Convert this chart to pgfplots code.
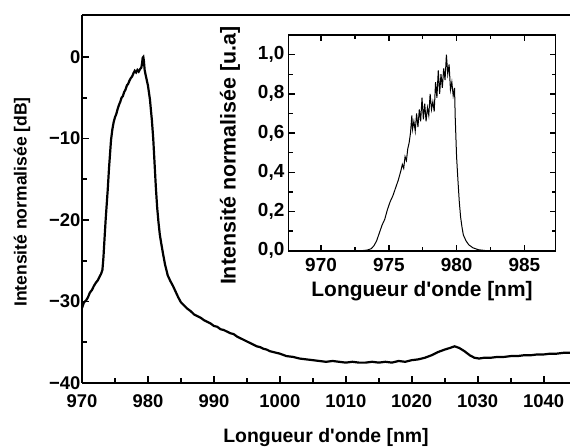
\documentclass[border=0pt]{standalone}
\usepackage{fontspec}
\setmainfont{Liberation Sans}
\usepackage{pgfplots}
\pgfplotsset{compat=1.18}
\pgfplotstableread{
x y
970.0 -30.8
970.3 -30.1
970.6 -29.9
970.9 -29.5
971.2 -28.9
971.5 -28.6
971.8 -28.1
972.1 -27.7
972.4 -27.4
972.7 -26.9
972.9 -26.6
973.1 -26.1
973.25 -24.6
973.4 -22.5
973.6 -19.8
973.9 -16.3
974.1 -13.6
974.4 -10.2
974.6 -8.9
974.8 -8.0
975.0 -7.4
975.2 -7.0
975.4 -6.4
975.6 -5.9
975.8 -5.5
976.0 -5.0
976.2 -4.8
976.4 -4.3
976.6 -4.0
976.8 -3.5
977.0 -3.3
977.2 -2.9
977.4 -2.6
977.6 -2.4
977.8 -2.0
978.0 -1.7
978.2 -1.9
978.4 -1.6
978.6 -1.8
978.8 -1.5
979.0 -1.3
979.1 -0.8
979.2 -0.1
979.3 0.0
979.4 -0.6
979.5 -1.6
979.7 -2.4
980.0 -3.5
980.3 -5.2
980.6 -7.8
980.8 -10.0
981.0 -13.0
981.2 -16.0
981.4 -18.5
981.6 -20.3
981.8 -21.8
982.0 -22.8
982.3 -24.2
982.6 -25.5
983.0 -26.8
983.4 -27.5
983.8 -28.1
984.2 -28.8
984.6 -29.5
985.0 -30.1
985.5 -30.5
986.0 -30.9
986.5 -31.2
987.0 -31.6
987.5 -31.8
988.0 -32.0
988.5 -32.3
989.0 -32.5
989.5 -32.7
990.0 -33.0
990.5 -33.1
991.0 -33.4
991.5 -33.5
992.0 -33.7
992.5 -33.9
993.0 -34.0
993.5 -34.3
994.0 -34.5
994.5 -34.7
995.0 -34.9
995.5 -35.1
996.0 -35.3
996.5 -35.5
997.0 -35.6
997.5 -35.8
998.0 -35.9
998.5 -36.1
999.0 -36.2
999.5 -36.3
1000 -36.4
1001 -36.7
1002 -36.8
1003 -37.0
1004 -37.1
1005 -37.2
1006 -37.3
1007 -37.4
1008 -37.3
1009 -37.4
1010 -37.5
1011 -37.4
1012 -37.5
1013 -37.5
1014 -37.4
1015 -37.5
1016 -37.4
1017 -37.5
1018 -37.3
1019 -37.4
1020 -37.2
1021 -37.1
1022 -36.9
1023 -36.6
1024 -36.2
1025 -35.9
1025.8 -35.7
1026.5 -35.5
1027.2 -35.7
1028 -36.1
1028.8 -36.6
1029.5 -36.9
1030.2 -37.0
1031 -36.9
1032 -36.9
1033 -36.8
1034 -36.8
1035 -36.7
1036 -36.7
1037 -36.6
1038 -36.6
1039 -36.5
1040 -36.5
1041 -36.4
1042 -36.4
1043 -36.3
1044 -36.3
}\maindata
\pgfplotstableread{
x y
967.6 0
973.0 0
973.4 0.003
973.7 0.01
973.9 0.025
974.1 0.05
974.3 0.09
974.5 0.13
974.7 0.16
974.9 0.21
975.1 0.25
975.3 0.28
975.5 0.32
975.7 0.36
975.9 0.41
976.0 0.44
976.1 0.42
976.2 0.48
976.3 0.46
976.4 0.52
976.5 0.55
976.6 0.60
976.7 0.69
976.75 0.62
976.85 0.66
976.95 0.61
977.05 0.70
977.15 0.63
977.25 0.72
977.35 0.66
977.45 0.78
977.55 0.67
977.65 0.75
977.75 0.66
977.85 0.73
977.95 0.69
978.05 0.80
978.15 0.72
978.25 0.76
978.35 0.71
978.45 0.86
978.55 0.78
978.65 0.92
978.75 0.80
978.85 0.90
978.95 0.83
979.05 0.93
979.15 0.87
979.25 1.00
979.35 0.90
979.45 0.95
979.55 0.82
979.65 0.86
979.75 0.79
979.85 0.83
979.9 0.68
979.95 0.58
980.0 0.48
980.1 0.36
980.2 0.25
980.3 0.17
980.4 0.12
980.5 0.08
980.7 0.05
980.9 0.03
981.2 0.015
981.6 0.005
982.2 0
987.3 0
}\insetdata
\begin{document}
\begin{tikzpicture}[x=1bp,y=1bp]
\useasboundingbox (0,0) rectangle (570,447);
\begin{axis}[
  at={(82bp,64bp)}, anchor=south west,
  width=488bp, height=368bp, scale only axis,
  xmin=970, xmax=1044, ymin=-40, ymax=5.15,
  axis x line*=box, axis y line*=left,
  axis line style={line width=2.2bp, -},
  xtick={970,980,...,1040}, ytick={-40,-30,...,0},
  yticklabels={−40,−30,−20,−10,0},
  minor x tick num=1, minor y tick num=1,
  xtick pos=left, ytick pos=left,
  tick align=inside,
  major tick length=7bp, minor tick length=5bp,
  every tick/.style={line width=1.8bp, black},
  tick label style={font=\fontsize{18.5}{20}\selectfont\bfseries, /pgf/number format/assume math mode=true},
  xticklabel style={anchor=base, yshift=-25bp, /pgf/number format/.cd, 1000 sep={}},
  yticklabel style={anchor=east, inner xsep=1.5bp},
  xlabel={Longueur d\textquotesingle onde [nm]},
  ylabel={Intensité normalisée [dB]},
  every axis x label/.style={at={(axis description cs:0.5,0)}, anchor=base, yshift=-60bp, font=\fontsize{19.5}{21}\selectfont\bfseries},
  every axis y label/.style={at={(axis description cs:0,0.5)}, xshift=-60bp, yshift=-3bp, rotate=90, anchor=center, font=\fontsize{17.6}{19}\selectfont\bfseries},
  clip=true,
]
\addplot[black, line width=2.2bp] table[x=x,y=y] {\maindata};
\end{axis}
\begin{axis}[
  at={(288.5bp,196.3bp)}, anchor=south west,
  width=267bp, height=215.7bp, scale only axis,
  xmin=967.6, xmax=987.3, ymin=0, ymax=1.1,
  axis background/.style={fill=white},
  axis line style={line width=1.8bp},
  xtick={970,975,980,985}, ytick={0,0.2,0.4,0.6,0.8,1.0},
  minor x tick num=1, minor y tick num=1,
  tick align=inside,
  major tick length=6bp, minor tick length=4bp,
  every tick/.style={line width=1.4bp, black},
  tick label style={font=\fontsize{19}{21}\selectfont\bfseries, /pgf/number format/assume math mode=true},
  yticklabel style={anchor=east, inner xsep=4bp, /pgf/number format/.cd, fixed, fixed zerofill, precision=1, use comma},
  xticklabel style={anchor=base, yshift=-21bp, /pgf/number format/.cd, 1000 sep={}},
  xlabel={Longueur d\textquotesingle onde [nm]},
  ylabel={Intensité normalisée [u.a]},
  every axis x label/.style={at={(axis description cs:0.5,0)}, anchor=base, yshift=-46bp, font=\fontsize{21}{23}\selectfont\bfseries},
  every axis y label/.style={at={(axis description cs:0,0.5)}, xshift=-58.5bp, yshift=-13bp, rotate=90, anchor=center, font=\fontsize{21.5}{23}\selectfont\bfseries},
]
\addplot[black, line width=1bp] table[x=x,y=y] {\insetdata};
\end{axis}
\end{tikzpicture}
\end{document}
